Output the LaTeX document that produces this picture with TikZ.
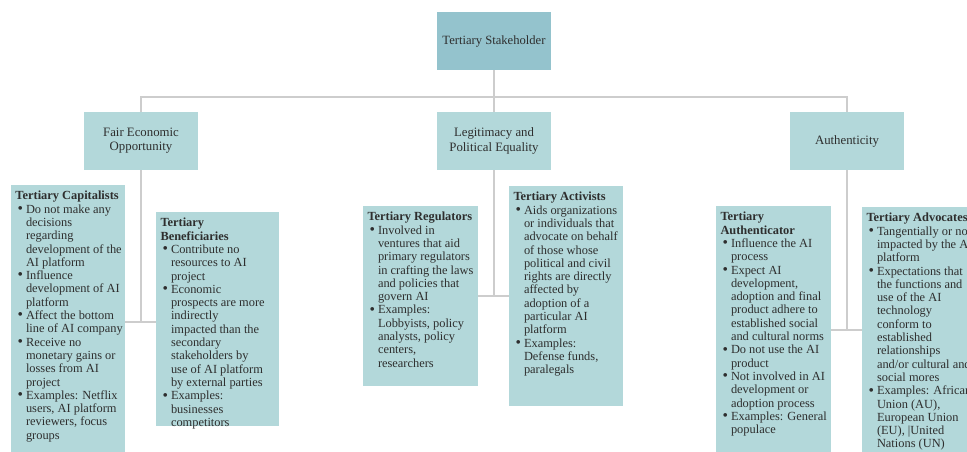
\documentclass[tikz,border=0pt]{standalone}
\usepackage{fontspec}
\setmainfont{Liberation Serif}
\definecolor{topc}{HTML}{94C3CD}
\definecolor{boxc}{HTML}{B3D8DA}
\definecolor{connc}{HTML}{CDCDCD}
\definecolor{txtc}{HTML}{2E2E2E}
\newcommand\itembul{\makebox[10.5pt][l]{\hspace{2pt}\raisebox{-0.3pt}{\scalebox{1.25}{\textbullet}}}}
\newcommand\itemgap{\hspace*{10.5pt}}
\newcommand\leafcontent[3]{\parbox[t][#2pt][t]{#1pt}{\vspace*{5.5pt}\begin{tabular}{@{}l@{}}#3\end{tabular}}}
\tikzset{
  topbox/.style={fill=topc, minimum width=114pt, minimum height=58pt, inner sep=2pt, align=center, text=txtc, font=\fontsize{12.6}{14.2}\selectfont, outer sep=0pt},
  midbox/.style={fill=boxc, minimum width=114pt, minimum height=58pt, inner sep=2pt, align=center, text=txtc, font=\fontsize{12.8}{14.2}\selectfont, outer sep=0pt},
  leaf/.style={fill=boxc, anchor=north west, inner xsep=4.5pt, inner ysep=0pt, outer sep=0pt, text=txtc, font=\fontsize{12.4}{13.3}\selectfont},
  conn/.style={draw=connc, line width=1.5pt}
}
\begin{document}
\begin{tikzpicture}[x=1pt,y=-1pt]
\useasboundingbox (0,0) rectangle (967,452);
\node[topbox] (top) at (494,41) {Tertiary Stakeholder};
\node[midbox] (fair) at (141,141) {Fair Economic\\Opportunity};
\node[midbox] (legit) at (494,141) {Legitimacy and\\Political Equality};
\node[midbox] (auth) at (847,141) {Authenticity};

\node[leaf] (cap) at (11,185) {\leafcontent{105}{275}{%
\textbf{Tertiary Capitalists}\\
\itembul Do not make any\\
\itemgap decisions\\
\itemgap regarding\\
\itemgap development of the\\
\itemgap AI platform\\
\itembul Influence\\
\itemgap development of AI\\
\itemgap platform\\
\itembul Affect the bottom\\
\itemgap line of AI company\\
\itembul Receive no\\
\itemgap monetary gains or\\
\itemgap losses from AI\\
\itemgap project\\
\itembul Examples: Netflix\\
\itemgap users, AI platform\\
\itemgap reviewers, focus\\
\itemgap groups}};

\node[leaf] (ben) at (156,212) {\leafcontent{114}{214}{%
\textbf{Tertiary}\\
\textbf{Beneficiaries}\\
\itembul Contribute no\\
\itemgap resources to AI\\
\itemgap project\\
\itembul Economic\\
\itemgap prospects are more\\
\itemgap indirectly\\
\itemgap impacted than the\\
\itemgap secondary\\
\itemgap stakeholders by\\
\itemgap use of AI platform\\
\itemgap by external parties\\
\itembul Examples:\\
\itemgap businesses\\
\itemgap competitors}};

\node[leaf] (reg) at (363,206) {\leafcontent{106}{180}{%
\textbf{Tertiary Regulators}\\
\itembul Involved in\\
\itemgap ventures that aid\\
\itemgap primary regulators\\
\itemgap in crafting the laws\\
\itemgap and policies that\\
\itemgap govern AI\\
\itembul Examples:\\
\itemgap Lobbyists, policy\\
\itemgap analysts, policy\\
\itemgap centers,\\
\itemgap researchers}};

\node[leaf] (act) at (509,186) {\leafcontent{105}{220}{%
\textbf{Tertiary Activists}\\
\itembul Aids organizations\\
\itemgap or individuals that\\
\itemgap advocate on behalf\\
\itemgap of those whose\\
\itemgap political and civil\\
\itemgap rights are directly\\
\itemgap affected by\\
\itemgap adoption of a\\
\itemgap particular AI\\
\itemgap platform\\
\itembul Examples:\\
\itemgap Defense funds,\\
\itemgap paralegals}};

\node[leaf] (authr) at (716,206) {\leafcontent{106}{260}{%
\textbf{Tertiary}\\
\textbf{Authenticator}\\
\itembul Influence the AI\\
\itemgap process\\
\itembul Expect AI\\
\itemgap development,\\
\itemgap adoption and final\\
\itemgap product adhere to\\
\itemgap established social\\
\itemgap and cultural norms\\
\itembul Do not use the AI\\
\itemgap product\\
\itembul Not involved in AI\\
\itemgap development or\\
\itemgap adoption process\\
\itembul Examples: General\\
\itemgap populace}};

\node[leaf] (adv) at (862,207) {\leafcontent{105}{260}{%
\textbf{Tertiary Advocates}\\
\itembul Tangentially or not\\
\itemgap impacted by the AI\\
\itemgap platform\\
\itembul Expectations that\\
\itemgap the functions and\\
\itemgap use of the AI\\
\itemgap technology\\
\itemgap conform to\\
\itemgap established\\
\itemgap relationships\\
\itemgap and/or cultural and\\
\itemgap social mores\\
\itembul Examples: African\\
\itemgap Union (AU),\\
\itemgap European Union\\
\itemgap (EU), |United\\
\itemgap Nations (UN)}};

\coordinate (bus) at (0,97);
\coordinate (j1) at (141,322);
\coordinate (j2) at (494,296);
\coordinate (j3) at (847,330);
\draw[conn] (top) -- (legit);
\draw[conn] (fair.north) |- (bus -| auth.north) -- (auth.north);
\draw[conn] (fair.south) -- (j1);
\draw[conn] (cap.east |- j1) -- (ben.west |- j1);
\draw[conn] (legit.south) -- (j2);
\draw[conn] (reg.east |- j2) -- (act.west |- j2);
\draw[conn] (auth.south) -- (j3);
\draw[conn] (authr.east |- j3) -- (adv.west |- j3);
\end{tikzpicture}
\end{document}
